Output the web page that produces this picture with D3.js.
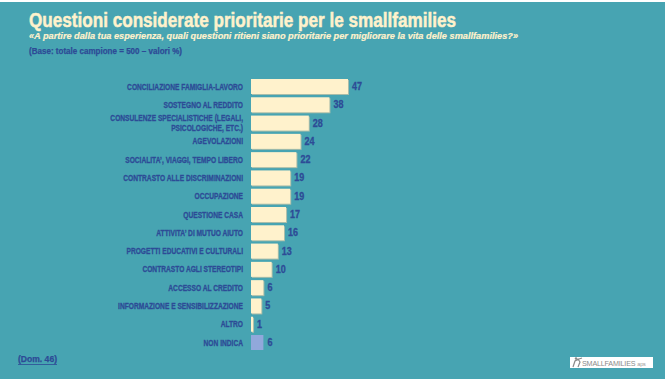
<!DOCTYPE html>
<html>
<head>
<meta charset="utf-8">
<script src="https://cdn.jsdelivr.net/npm/d3@7"></script>
<style>
  html, body { margin: 0; padding: 0; background: #47A4B2; }
  svg { display: block; }
</style>
</head>
<body>
<svg id="chart" width="667" height="379"></svg>
<script>
const categories = [
  "CONCILIAZIONE FAMIGLIA-LAVORO",
  "SOSTEGNO AL REDDITO",
  "CONSULENZE SPECIALISTICHE (LEGALI,\nPSICOLOGICHE, ETC.)",
  "AGEVOLAZIONI",
  "SOCIALITA’, VIAGGI, TEMPO LIBERO",
  "CONTRASTO ALLE DISCRIMINAZIONI",
  "OCCUPAZIONE",
  "QUESTIONE CASA",
  "ATTIVITA’ DI MUTUO AIUTO",
  "PROGETTI EDUCATIVI E CULTURALI",
  "CONTRASTO AGLI STEREOTIPI",
  "ACCESSO AL CREDITO",
  "INFORMAZIONE E SENSIBILIZZAZIONE",
  "ALTRO",
  "NON INDICA"
];
const values = [47, 38, 28, 24, 22, 19, 19, 17, 16, 13, 10, 6, 5, 1, 6];
const highlighted = ["NON INDICA"];

const titleText = "Questioni considerate prioritarie per le smallfamilies";
const subtitleText = "«A partire dalla tua esperienza, quali questioni ritieni siano prioritarie per migliorare la vita delle smallfamilies?»";
const baseText = "(Base: totale campione = 500 – valori %)";
const noteText = "(Dom. 46)";

const BG = "#47A4B2", CREAM = "#FFF2CC", BLUE = "#2D4B96", LILAC = "#91A8DB";
const FONT = "'Liberation Sans', Arial, sans-serif";

const svg = d3.select("#chart");
svg.append("rect").attr("width", 667).attr("height", 379).attr("fill", BG);
svg.append("rect").attr("width", 667).attr("height", 2).attr("fill", "#ffffff");
svg.append("rect").attr("x", 665).attr("width", 2).attr("height", 379).attr("fill", "#ffffff");

// Titles
svg.append("text").attr("x", 29).attr("y", 27)
  .attr("font-family", FONT).attr("font-weight", "bold").attr("font-size", 19.5)
  .attr("fill", CREAM).attr("stroke", CREAM).attr("stroke-width", 0.5)
  .attr("textLength", 427).attr("lengthAdjust", "spacingAndGlyphs")
  .text(titleText);
svg.append("text").attr("x", 29).attr("y", 38.5)
  .attr("font-family", FONT).attr("font-weight", "bold").attr("font-style", "italic").attr("font-size", 9.5)
  .attr("fill", CREAM).attr("stroke", CREAM).attr("stroke-width", 0.2)
  .attr("textLength", 489).attr("lengthAdjust", "spacingAndGlyphs")
  .text(subtitleText);
svg.append("text").attr("x", 29).attr("y", 54)
  .attr("font-family", FONT).attr("font-weight", "bold").attr("font-size", 8.5)
  .attr("fill", BLUE).attr("stroke", BLUE).attr("stroke-width", 0.25)
  .attr("textLength", 153).attr("lengthAdjust", "spacingAndGlyphs")
  .text(baseText);

// Scales
const x = d3.scaleLinear().domain([0, 47]).range([251, 348]);
const y = d3.scaleBand().domain(categories).range([77.35, 351.65]).paddingInner(0.18).paddingOuter(0.09);

const rows = categories.map((c, i) => ({ c, v: values[i] }));

// shadows
svg.append("g").selectAll("rect").data(rows.filter(d => !highlighted.includes(d.c))).join("rect")
  .attr("x", x(0) + 1).attr("y", d => y(d.c) + 1)
  .attr("width", d => x(d.v) - x(0)).attr("height", y.bandwidth())
  .attr("fill", "#A9BDAA");
svg.append("g").selectAll("rect").data(rows).join("rect")
  .attr("x", x(0)).attr("y", d => y(d.c))
  .attr("width", d => x(d.v) - x(0)).attr("height", y.bandwidth())
  .attr("fill", d => highlighted.includes(d.c) ? LILAC : CREAM);

// Category labels (condensed)
const labG = svg.append("g");
const labels = labG.selectAll("text").data(rows).join("text")
  .attr("font-family", FONT).attr("font-weight", "bold").attr("font-size", 8.6)
  .attr("fill", BLUE).attr("stroke", BLUE).attr("stroke-width", 0.3)
  .attr("text-anchor", "end");
labels.each(function(d) {
  const lines = d.c.split("\n");
  const t = d3.select(this);
  const cy = y(d.c) + y.bandwidth() / 2;
  lines.forEach((ln, k) => {
    t.append("tspan").attr("x", 0)
      .attr("y", cy + 3.1 + (k - (lines.length - 1) / 2) * 10)
      .text(ln);
  });
});
const w0 = labels.filter((d, i) => i === 0).node().getComputedTextLength();
const sx = 116 / w0;
labels.attr("transform", `translate(243,0) scale(${sx},1)`);

// Value labels
svg.append("g").selectAll("text").data(rows).join("text")
  .attr("transform", d => `translate(${x(d.v) + 4},${y(d.c) + y.bandwidth() / 2 + 3.5}) scale(0.9,1)`)
  .attr("font-family", FONT).attr("font-weight", "bold").attr("font-size", 10)
  .attr("fill", BLUE).attr("stroke", BLUE).attr("stroke-width", 0.3)
  .text(d => d.v);

// Note
svg.append("text").attr("x", 18).attr("y", 362)
  .attr("font-family", FONT).attr("font-weight", "bold").attr("font-size", 8.5)
  .attr("fill", BLUE).attr("stroke", BLUE).attr("stroke-width", 0.25)
  .attr("textLength", 39).attr("lengthAdjust", "spacingAndGlyphs")
  .text(noteText);
svg.append("line").attr("x1", 18).attr("x2", 57).attr("y1", 364.5).attr("y2", 364.5)
  .attr("stroke", BLUE).attr("stroke-width", 0.8);

// Logo
const logo = svg.append("g");
logo.append("rect").attr("x", 570).attr("y", 357).attr("width", 83).attr("height", 11).attr("fill", "#ffffff");
logo.append("path").attr("d", "M573,367 L575,361 L578,359 L580,362 L578,367 M575,361 L579,359 L582,358")
  .attr("fill", "none").attr("stroke", "#8a8a8a").attr("stroke-width", 1.2);
logo.append("circle").attr("cx", 576).attr("cy", 358.5).attr("r", 1.2).attr("fill", "#8a8a8a");
const logoText = logo.append("text").attr("x", 582).attr("y", 366)
  .attr("font-family", FONT).attr("font-size", 7.2).attr("fill", "#8a8a8a")
  .attr("letter-spacing", -0.2);
logoText.append("tspan").text("SMALLFAMILIES");
logoText.append("tspan").attr("dx", 2).attr("font-size", 5.5).attr("fill", "#9a9a9a").text("aps");
</script>
</body>
</html>
